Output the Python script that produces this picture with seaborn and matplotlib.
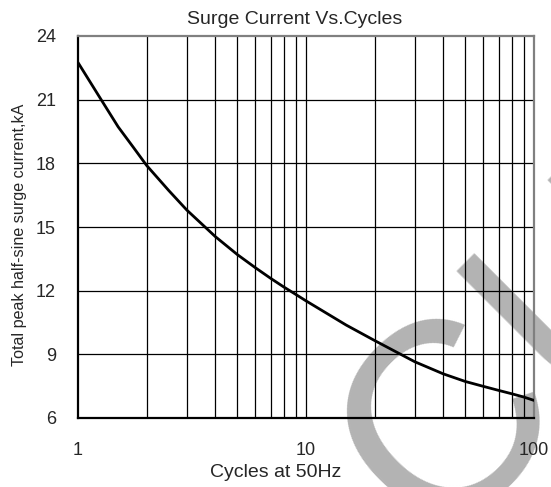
import pandas as pd
import seaborn as sns
import matplotlib.pyplot as plt
from matplotlib import font_manager

# Curve (cycles at 50Hz -> peak surge current, kA)
cycles = [1, 1.26, 1.5, 1.75, 2, 2.5, 3, 4, 5, 6, 7, 8, 9, 10, 15, 20, 30, 40, 50, 60, 70, 80, 90, 100]
current_ka = [22.75, 21.02, 19.72, 18.75, 17.9, 16.72, 15.8, 14.55, 13.7, 13.08, 12.58, 12.17, 11.83,
              11.52, 10.38, 9.65, 8.65, 8.08, 7.72, 7.49, 7.3, 7.14, 6.99, 6.83]

y_ticks = [6, 9, 12, 15, 18, 21, 24]
x_ticks = [1, 10, 100]
x_tick_labels = ["1", "10", "100"]
x_grid = [2, 3, 4, 5, 6, 7, 8, 9, 10, 20, 30, 40, 50, 60, 70, 80, 90]

df = pd.DataFrame({"cycles": cycles, "current": current_ka})

sns.set_theme(style="white")
plt.rcParams["font.family"] = ["Liberation Sans", "DejaVu Sans"]

installed = {f.name for f in font_manager.fontManager.ttflist}
narrow = "Liberation Sans Narrow" if "Liberation Sans Narrow" in installed else "Liberation Sans"

fig = plt.figure(figsize=(5.51, 4.87), dpi=100)
ax = fig.add_axes([78 / 551, 69 / 487, 456 / 551, 382 / 487])
ax.set_facecolor("none")

# light grey watermark behind the chart
fig.text(0.784, -0.121, "CUI", fontsize=195, color="#b3b3b3", rotation=45,
         rotation_mode="anchor", ha="left", va="baseline", zorder=-1)

# grid
for v in x_grid:
    ax.axvline(v, color="black", lw=0.9, zorder=1)
for v in y_ticks[1:-1]:
    ax.axhline(v, color="black", lw=0.9, zorder=1)

sns.lineplot(data=df, x="cycles", y="current", color="black", lw=2.0, ax=ax, zorder=3)

ax.set_xscale("log")
ax.set_xlim(1, 100)
ax.set_ylim(6, 24)
ax.set_xticks(x_ticks)
ax.set_xticklabels(x_tick_labels)
ax.minorticks_off()
ax.set_yticks(y_ticks)
ax.tick_params(axis="y", direction="in", length=5, width=1, color="black", pad=16, labelsize=13)
ax.tick_params(axis="x", direction="in", length=0, pad=17, labelsize=13)

for side in ["left", "bottom"]:
    ax.spines[side].set_color("black")
    ax.spines[side].set_linewidth(1.6)
for side in ["top", "right"]:
    ax.spines[side].set_color("#808080")
    ax.spines[side].set_linewidth(1.6)

ax.set_title("Surge Current Vs.Cycles", fontsize=14, x=0.474, pad=9)
ax.set_xlabel("Cycles at 50Hz", fontsize=14)
ax.xaxis.set_label_coords(0.434, -0.12)
ax.xaxis.label.set_va("top")
ylab_size = 13.7 if narrow != "Liberation Sans" else 11.6
ax.set_ylabel("Total peak half-sine surge current,kA", fontsize=ylab_size, family=[narrow, "DejaVu Sans"])
ax.yaxis.set_label_coords(-0.112, 0.479)

fig.savefig("out.png", dpi=100)
